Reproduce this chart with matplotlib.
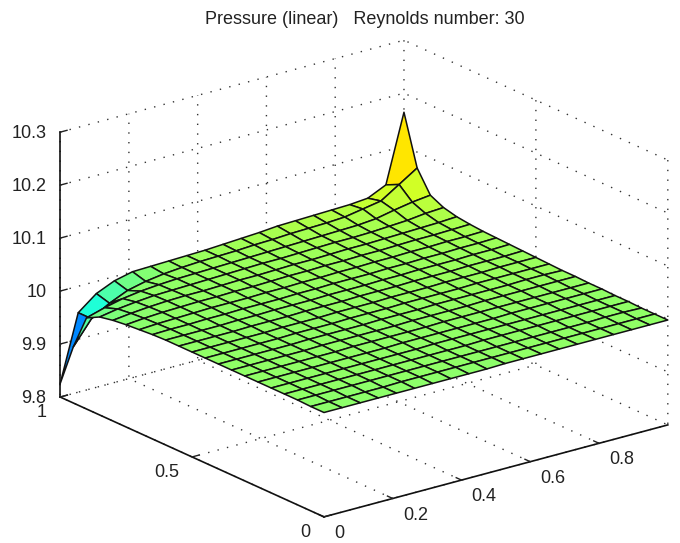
# plot.py
# Pressure surface, Reynolds number 30, drawn in the style of a MATLAB surf
import numpy as np
import matplotlib
matplotlib.use('Agg')
import matplotlib.pyplot as plt
from matplotlib.colors import Normalize

plt.rcParams['font.family'] = ['Liberation Sans', 'DejaVu Sans']
plt.rcParams['grid.linestyle'] = (0, (1, 6))
plt.rcParams['grid.linewidth'] = 1.0
plt.rcParams['grid.color'] = '#333333'

x_vals = [0.0, 0.0526, 0.1053, 0.1579, 0.2105, 0.2632, 0.3158, 0.3684, 0.4211, 0.4737,
          0.5263, 0.5789, 0.6316, 0.6842, 0.7368, 0.7895, 0.8421, 0.8947, 0.9474, 1.0]
y_vals = [0.0, 0.05, 0.1, 0.15, 0.2, 0.25, 0.3, 0.35, 0.4, 0.45, 0.5,
          0.55, 0.6, 0.65, 0.7, 0.75, 0.8, 0.85, 0.9, 0.95, 1.0]

# one row per y value
pressure = [
    [9.997, 9.997, 9.997, 9.997, 9.997, 9.997, 9.997, 9.997, 9.997, 9.997, 9.998, 9.998, 9.998, 9.998, 9.998, 9.998, 9.998, 9.998, 9.998, 9.998],
    [9.997, 9.997, 9.997, 9.997, 9.997, 9.998, 9.998, 9.998, 9.998, 9.998, 9.998, 9.998, 9.998, 9.998, 9.998, 9.998, 9.998, 9.998, 9.998, 9.998],
    [9.998, 9.998, 9.998, 9.998, 9.998, 9.998, 9.998, 9.998, 9.998, 9.998, 9.998, 9.998, 9.998, 9.998, 9.998, 9.998, 9.998, 9.999, 9.999, 9.998],
    [9.998, 9.998, 9.998, 9.998, 9.998, 9.998, 9.998, 9.998, 9.998, 9.998, 9.998, 9.999, 9.999, 9.999, 9.999, 9.999, 9.999, 9.999, 9.999, 9.999],
    [9.998, 9.998, 9.998, 9.998, 9.998, 9.998, 9.998, 9.998, 9.998, 9.999, 9.999, 9.999, 9.999, 9.999, 9.999, 9.999, 9.999, 9.999, 9.999, 9.999],
    [9.998, 9.998, 9.998, 9.998, 9.998, 9.998, 9.998, 9.998, 9.999, 9.999, 9.999, 9.999, 9.999, 9.999, 10.000, 10.000, 10.000, 10.000, 10.000, 10.000],
    [9.998, 9.998, 9.998, 9.998, 9.998, 9.998, 9.999, 9.999, 9.999, 9.999, 9.999, 10.000, 10.000, 10.000, 10.000, 10.000, 10.000, 10.000, 10.000, 10.000],
    [9.998, 9.998, 9.998, 9.998, 9.998, 9.999, 9.999, 9.999, 9.999, 9.999, 10.000, 10.000, 10.000, 10.000, 10.001, 10.001, 10.001, 10.001, 10.001, 10.001],
    [9.998, 9.998, 9.998, 9.998, 9.998, 9.999, 9.999, 9.999, 9.999, 10.000, 10.000, 10.000, 10.001, 10.001, 10.001, 10.001, 10.001, 10.002, 10.002, 10.001],
    [9.998, 9.998, 9.998, 9.998, 9.998, 9.999, 9.999, 9.999, 10.000, 10.000, 10.000, 10.001, 10.001, 10.001, 10.001, 10.002, 10.002, 10.002, 10.002, 10.002],
    [9.998, 9.998, 9.998, 9.998, 9.998, 9.999, 9.999, 9.999, 10.000, 10.000, 10.000, 10.001, 10.001, 10.001, 10.002, 10.002, 10.002, 10.003, 10.003, 10.003],
    [9.998, 9.998, 9.998, 9.998, 9.999, 9.999, 9.999, 10.000, 10.000, 10.000, 10.001, 10.001, 10.001, 10.002, 10.002, 10.002, 10.003, 10.003, 10.003, 10.004],
    [9.998, 9.998, 9.998, 9.998, 9.999, 9.999, 10.000, 10.000, 10.000, 10.001, 10.001, 10.001, 10.002, 10.002, 10.003, 10.003, 10.003, 10.004, 10.004, 10.005],
    [9.997, 9.998, 9.998, 9.999, 9.999, 10.000, 10.000, 10.000, 10.001, 10.001, 10.002, 10.002, 10.002, 10.003, 10.003, 10.004, 10.004, 10.005, 10.005, 10.006],
    [9.995, 9.997, 9.998, 9.999, 10.000, 10.000, 10.000, 10.001, 10.001, 10.002, 10.002, 10.003, 10.003, 10.004, 10.004, 10.005, 10.005, 10.006, 10.006, 10.007],
    [9.993, 9.996, 9.998, 9.999, 10.000, 10.000, 10.001, 10.001, 10.002, 10.003, 10.003, 10.004, 10.004, 10.005, 10.005, 10.006, 10.007, 10.007, 10.008, 10.009],
    [9.990, 9.994, 9.997, 9.999, 10.000, 10.000, 10.001, 10.002, 10.002, 10.003, 10.004, 10.004, 10.005, 10.006, 10.006, 10.007, 10.008, 10.009, 10.010, 10.012],
    [9.985, 9.991, 9.995, 9.998, 9.999, 10.000, 10.001, 10.002, 10.003, 10.004, 10.004, 10.005, 10.006, 10.007, 10.007, 10.008, 10.010, 10.012, 10.016, 10.018],
    [9.972, 9.982, 9.990, 9.995, 9.998, 10.000, 10.001, 10.002, 10.003, 10.004, 10.005, 10.006, 10.007, 10.008, 10.009, 10.010, 10.013, 10.020, 10.026, 10.030],
    [9.906, 9.950, 9.970, 9.985, 9.993, 9.998, 10.001, 10.003, 10.004, 10.005, 10.007, 10.008, 10.010, 10.011, 10.012, 10.014, 10.020, 10.026, 10.048, 10.070],
    [9.825, 9.950, 9.977, 9.992, 10.000, 10.001, 10.002, 10.003, 10.004, 10.006, 10.008, 10.010, 10.013, 10.014, 10.015, 10.016, 10.017, 10.020, 10.036, 10.164],
]

x_ticks = [0, 0.2, 0.4, 0.6, 0.8]
x_labels = ['0', '0.2', '0.4', '0.6', '0.8']
y_ticks = [0, 0.5, 1]
y_labels = ['0', '0.5', '1']
z_ticks = [9.8, 9.9, 10, 10.1, 10.2, 10.3]
z_labels = ['9.8', '9.9', '10', '10.1', '10.2', '10.3']

fig = plt.figure(figsize=(6.8, 5.43), dpi=100)
W = 560
ax = fig.add_axes([76.4 / 680, -23.1 / 543, W / 680, W / 543], projection='3d',
                  proj_type='ortho')
ax.patch.set_alpha(0)

X, Y = np.meshgrid(x_vals, y_vals)
Z = np.array(pressure)
norm = Normalize(9.815, Z.max())
colors = plt.get_cmap('jet')(norm(Z))

surf = ax.plot_surface(X, Y, Z, rstride=1, cstride=1, facecolors=colors, shade=False,
                       edgecolor='#111111', linewidth=1.1, antialiased=True)
surf.set_clip_on(False)

ax.set_xlim(0, 1, view_margin=0)
ax.set_ylim(0, 1, view_margin=0)
ax.set_zlim(9.8, 10.3, view_margin=0)
ax.view_init(elev=20.4, azim=-127.5)
ax.set_box_aspect((1, 1, 0.652), zoom=1.17)

ax.set_xticks(x_ticks, x_labels)
ax.set_yticks(y_ticks, y_labels)
ax.set_zticks(z_ticks, z_labels)
ax.tick_params(labelsize=13, colors='#222222')
ax.tick_params(axis='x', pad=0)
ax.tick_params(axis='y', pad=0)
ax.tick_params(axis='z', pad=-3.3)
ax.zaxis.set_ticks_position('upper')

for lab in ax.get_xticklabels():
    lab.set_ha('left')
    lab.set_va('center_baseline')
for lab in ax.get_yticklabels():
    lab.set_ha('right')
    lab.set_va('center_baseline')
for lab in ax.get_zticklabels():
    lab.set_ha('right')
    lab.set_va('center_baseline')

for axis in (ax.xaxis, ax.yaxis, ax.zaxis):
    axis.set_pane_color((1, 1, 1, 0))
    axis.pane.set_edgecolor('none')
    axis.line.set_color('#111111')
    axis.line.set_linewidth(1.2)
    axis._axinfo['tick']['inward_factor'] = -0.25
    axis._axinfo['tick']['outward_factor'] = 0.0
    axis._axinfo['tick']['linewidth'] = {True: 1.0, False: 0.5}
    axis.line.set_clip_on(False)

fig.text(364.5 / 680, 1 - 20 / 543, 'Pressure (linear)   Reynolds number: 30',
         ha='center', va='center', fontsize=13, color='#222222')

fig.savefig('out.png', dpi=100, facecolor='white')
